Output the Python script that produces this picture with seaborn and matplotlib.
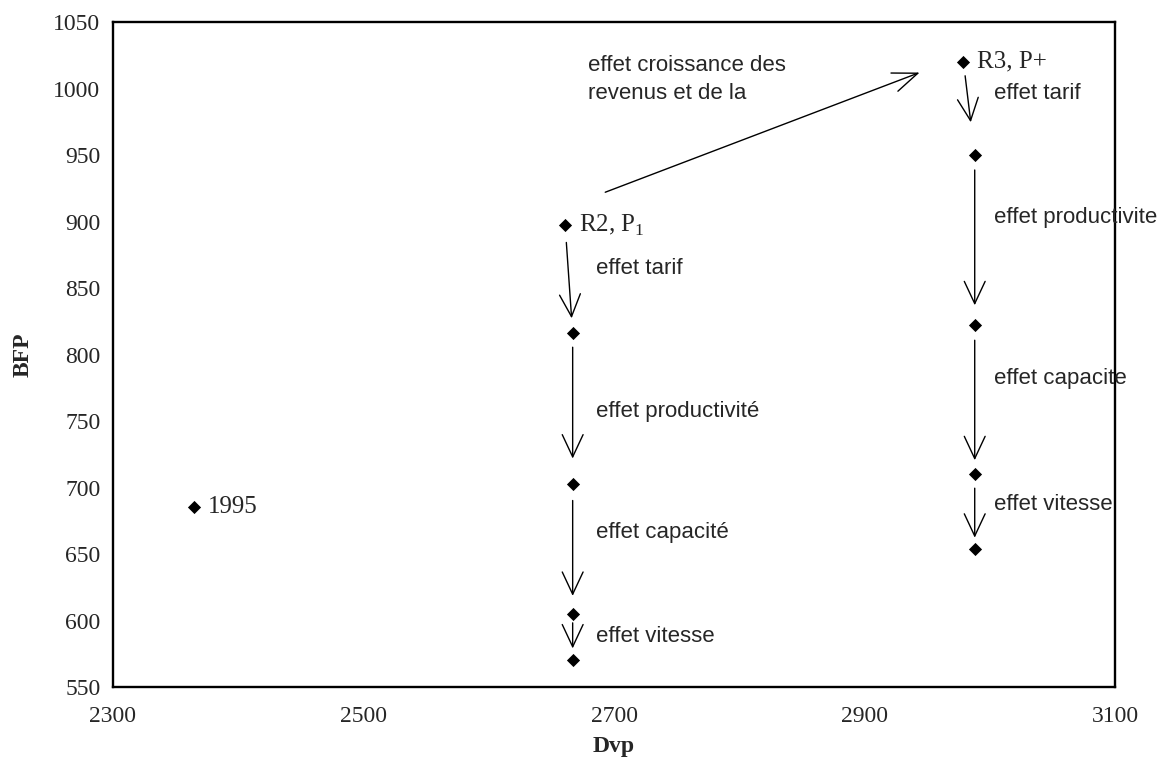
import matplotlib
matplotlib.use("Agg")
import matplotlib.pyplot as plt
import seaborn as sns
import pandas as pd

# ---- data ----
dvp_1995 = [2365]
bfp_1995 = [685]

dvp_r2 = [2661, 2667, 2667, 2667, 2667]
bfp_r2 = [897, 816, 703, 605, 570]

dvp_r3 = [2979, 2988, 2988, 2988, 2988]
bfp_r3 = [1020, 950, 822, 710, 654]

effets_r2 = ["effet tarif", "effet productivité", "effet capacité", "effet vitesse"]
effets_r3 = ["effet tarif", "effet productivite", "effet capacite", "effet vitesse"]

# label anchor positions (text placement)
lab_x_r2 = 2686
lab_y_r2 = [865, 757, 666, 588]
lab_x_r3 = 3003
lab_y_r3 = [996, 903, 782, 687]

xticks = [2300, 2500, 2700, 2900, 3100]
yticks = [550, 600, 650, 700, 750, 800, 850, 900, 950, 1000, 1050]

# arrow gaps (px) at tail / head for each step
gap_tail_r2 = [17, 14, 17, 9]
gap_head_r2 = [15, 25, 18, 12]
gap_tail_r3 = [14, 15, 15, 14]
gap_head_r3 = [33, 20, 14, 11]

sns.set_theme(style="white")
plt.rcParams["font.family"] = ["Liberation Serif", "DejaVu Serif"]
plt.rcParams["mathtext.fontset"] = "custom"
plt.rcParams["mathtext.rm"] = "Liberation Serif"

df = pd.DataFrame({
    "Dvp": dvp_1995 + dvp_r2 + dvp_r3,
    "BFP": bfp_1995 + bfp_r2 + bfp_r3,
})

W, H = 1169, 777
fig = plt.figure(figsize=(W / 100, H / 100), dpi=100)
ax = fig.add_axes([113 / W, 1 - 687 / H, (1115 - 113) / W, (687 - 22) / H])

sns.scatterplot(data=df, x="Dvp", y="BFP", marker="D", s=45, color="black",
                edgecolor="black", linewidth=0, ax=ax, zorder=3)

ax.set_xlim(2300, 3100)
ax.set_ylim(550, 1050)
ax.set_xticks(xticks)
ax.set_yticks(yticks)
ax.tick_params(axis="both", which="both", length=0, labelsize=17)
ax.tick_params(axis="x", pad=14)
ax.tick_params(axis="y", pad=9)
for s in ax.spines.values():
    s.set_color("black")
    s.set_linewidth(1.7)
ax.set_xlabel("Dvp", fontsize=17, fontweight="bold", labelpad=6)
ax.set_ylabel("BFP", fontsize=17, fontweight="bold", labelpad=14)

sans = ["Liberation Sans", "DejaVu Sans"]
px2pt = 0.72
arrow_style = "->,head_length=1.6,head_width=0.75"

# point labels
ax.annotate("1995", (dvp_1995[0], bfp_1995[0]), xytext=(10, 0), textcoords="offset points",
            fontsize=18, va="center", ha="left")
ax.annotate("R2, P$_\\mathregular{1}$", (dvp_r2[0], bfp_r2[0]), xytext=(10, 0),
            textcoords="offset points", fontsize=18, va="center", ha="left")
ax.annotate("R3, P+", (dvp_r3[0], bfp_r3[0]), xytext=(10, 0),
            textcoords="offset points", fontsize=18, va="center", ha="left")

# step arrows and labels
for xs, ys, labels, lx, lys, gt, gh in [
        (dvp_r2, bfp_r2, effets_r2, lab_x_r2, lab_y_r2, gap_tail_r2, gap_head_r2),
        (dvp_r3, bfp_r3, effets_r3, lab_x_r3, lab_y_r3, gap_tail_r3, gap_head_r3)]:
    for i in range(len(xs) - 1):
        ax.annotate("", xy=(xs[i + 1], ys[i + 1]), xytext=(xs[i], ys[i]),
                    arrowprops=dict(arrowstyle=arrow_style, color="black", lw=1.0,
                                    shrinkA=gt[i] * px2pt, shrinkB=gh[i] * px2pt),
                    fontsize=10)
        ax.text(lx, lys[i], labels[i], fontsize=16, family=sans,
                va="center", ha="left")

# income growth arrow
growth_tail = (2693, 922)
growth_head = (2944, 1012)
ax.annotate("", xy=growth_head, xytext=growth_tail,
            arrowprops=dict(arrowstyle="->,head_length=1.8,head_width=0.7",
                            color="black", lw=1.0, shrinkA=0, shrinkB=0),
            fontsize=10)
ax.text(2679, 1007, "effet croissance des\nrevenus et de la", fontsize=16,
        family=sans, va="center", ha="left", linespacing=1.45)

fig.savefig("out.png", dpi=100)
